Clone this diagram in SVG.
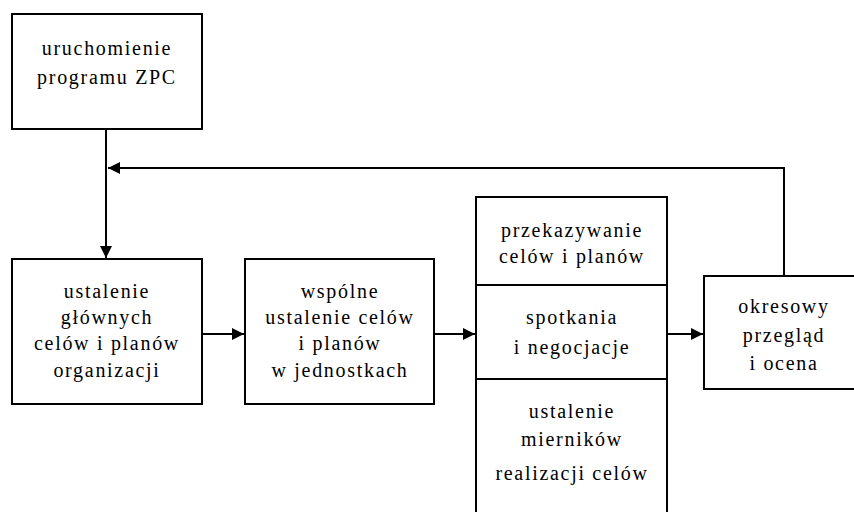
<svg xmlns="http://www.w3.org/2000/svg" width="854" height="512" viewBox="0 0 854 512">
  <style>
    .box { fill: #ffffff; stroke: #000000; stroke-width: 2; }
    .line { fill: none; stroke: #000000; stroke-width: 2; }
    text { font-size: 20px; letter-spacing: 1.7px; fill: #000000; text-anchor: middle; }
  </style>
  <defs>
    <marker id="arrow" viewBox="0 0 12 12" refX="12" refY="6" markerWidth="12" markerHeight="12" markerUnits="userSpaceOnUse" orient="auto">
      <path d="M0,0 L12,6 L0,12 Z" fill="#000000"/>
    </marker>
  </defs>
  <rect x="0" y="0" width="854" height="512" fill="#ffffff"/>

  <!-- connectors -->
  <g id="connectors">
    <line class="line" x1="106" y1="129" x2="106" y2="258" marker-end="url(#arrow)"/>
    <polyline class="line" points="784,276 784,168 108,168" marker-end="url(#arrow)"/>
    <line class="line" x1="202" y1="334" x2="244" y2="334" marker-end="url(#arrow)"/>
    <line class="line" x1="434" y1="334" x2="475" y2="334" marker-end="url(#arrow)"/>
    <line class="line" x1="667" y1="334" x2="703" y2="334" marker-end="url(#arrow)"/>
  </g>

  <g id="nodes" font-family="Liberation Serif, Times New Roman, DejaVu Serif, Noto Serif, serif">
    <g id="start">
      <rect class="box" x="12" y="14" width="190" height="115"/>
      <text x="107" y="55">uruchomienie</text>
      <text x="107" y="84">programu ZPC</text>
    </g>

    <g id="main-goals">
      <rect class="box" x="12" y="259" width="190" height="145"/>
      <text x="107" y="298">ustalenie</text>
      <text x="107" y="324">głównych</text>
      <text x="107" y="350">celów i planów</text>
      <text x="107" y="377">organizacji</text>
    </g>

    <g id="unit-goals">
      <rect class="box" x="245" y="259" width="189" height="145"/>
      <text x="340" y="298">wspólne</text>
      <text x="340" y="324">ustalenie celów</text>
      <text x="340" y="350">i planów</text>
      <text x="340" y="377">w jednostkach</text>
    </g>

    <g id="stack">
      <rect class="box" x="476" y="197" width="191" height="330"/>
      <line class="line" x1="476" y1="285" x2="667" y2="285"/>
      <line class="line" x1="476" y1="379" x2="667" y2="379"/>
      <text x="572" y="237">przekazywanie</text>
      <text x="572" y="263">celów i planów</text>
      <text x="572" y="324">spotkania</text>
      <text x="572" y="354">i negocjacje</text>
      <text x="572" y="418">ustalenie</text>
      <text x="572" y="446">mierników</text>
      <text x="572" y="480">realizacji celów</text>
    </g>

    <g id="review">
      <rect class="box" x="704" y="276" width="160" height="113"/>
      <text x="784" y="313">okresowy</text>
      <text x="784" y="342">przegląd</text>
      <text x="784" y="370">i ocena</text>
    </g>
  </g>
</svg>
